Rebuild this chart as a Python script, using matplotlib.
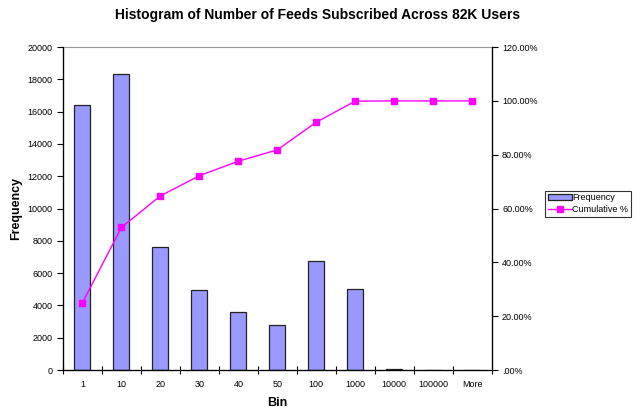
import matplotlib.pyplot as plt
from matplotlib.ticker import FuncFormatter

bins = ['1', '10', '20', '30', '40', '50', '100', '1000', '10000', '100000', 'More']
frequency = [16400, 18350, 7620, 4930, 3590, 2770, 6770, 5040, 80, 0, 0]
cumulative = [25.0, 53.0, 64.7, 72.2, 77.6, 81.8, 92.1, 99.9, 100.0, 100.0, 100.0]

plt.rcParams['font.family'] = ['Liberation Sans', 'DejaVu Sans']

fig = plt.figure(figsize=(6.36, 4.13), dpi=100)
ax = fig.add_axes([0.099, 0.104, 0.674, 0.782])
x = list(range(len(bins)))

bars = ax.bar(x, frequency, width=0.41, color='#9999FF', edgecolor='#222222',
              linewidth=0.9, label='Frequency')
ax.set_xlim(-0.5, len(bins) - 0.5)
ax.set_ylim(0, 20000)
ax.set_yticks(range(0, 20001, 2000))
ax.tick_params(axis='y', labelsize=6.5, direction='out', length=4, width=0.8)

# category labels at centres, tick marks at the boundaries
ax.set_xticks([i - 0.5 for i in range(len(bins) + 1)])
ax.set_xticklabels([])
ax.tick_params(axis='x', direction='inout', length=6, width=0.8)
ax.set_xticks(x, minor=True)
ax.set_xticklabels(bins, minor=True, fontsize=6.5)
ax.tick_params(axis='x', which='minor', length=0, pad=7)

for s in ['left', 'bottom']:
    ax.spines[s].set_linewidth(0.9)
ax.spines['top'].set_color('#999999')
ax.spines['top'].set_linewidth(0.8)

ax2 = ax.twinx()
line, = ax2.plot(x, cumulative, color='#FF00FF', marker='s', markersize=4,
                 linewidth=1, label='Cumulative %')
ax2.set_ylim(0, 120)
ax2.set_yticks(range(0, 121, 20))
ax2.yaxis.set_major_formatter(FuncFormatter(
    lambda v, p: '.00%' if v == 0 else '%.2f%%' % v))
ax2.tick_params(axis='y', labelsize=6.5, direction='out', length=4, width=0.8)
ax2.spines['right'].set_linewidth(0.9)
ax2.spines['top'].set_visible(False)

ax.set_ylabel('Frequency', fontsize=9, fontweight='bold', labelpad=4)
ax.set_xlabel('Bin', fontsize=9, fontweight='bold', labelpad=6)
fig.text(0.5, 0.963, 'Histogram of Number of Feeds Subscribed Across 82K Users',
         ha='center', va='center', fontsize=10, fontweight='bold')

leg = fig.legend([bars, line], ['Frequency', 'Cumulative %'],
                 loc='center', bbox_to_anchor=(0.925, 0.507), fontsize=6.5,
                 frameon=True, fancybox=False, edgecolor='black',
                 handlelength=2.6, handletextpad=0.1, borderpad=0.3,
                 labelspacing=0.3, borderaxespad=0)
leg.get_frame().set_linewidth(0.8)

fig.savefig('out.png', dpi=100)
